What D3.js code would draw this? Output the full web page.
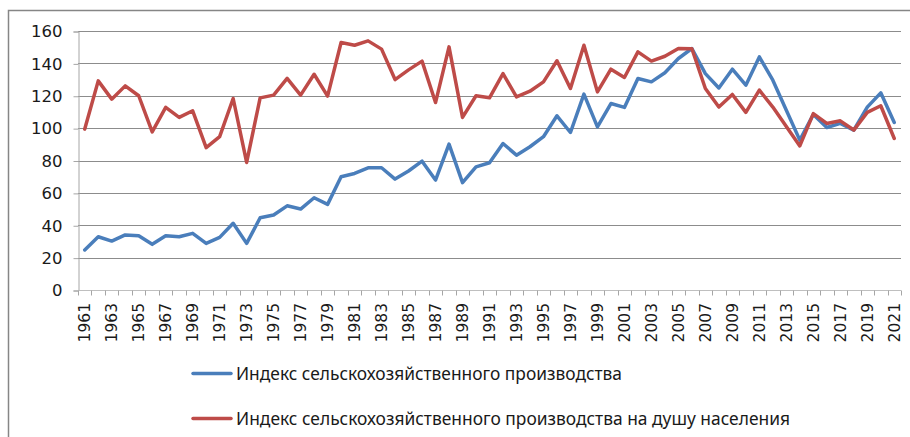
<!DOCTYPE html>
<html>
<head>
<meta charset="utf-8">
<script src="https://cdn.jsdelivr.net/npm/d3@7"></script>
<style>
    html, body { margin: 0; padding: 0; background: #fff; }
    svg { display: block; }
</style>
</head>
<body>
<div id="chart"></div>
<script>
// годы 1961-2021
const years = d3.range(1961, 2022);

const production = [
    24.7, 32.9, 30.2, 34, 33.5, 28.2, 33.5, 32.9, 35, 28.8,
    32.5, 41.2, 28.8, 44.6, 46.3, 52, 50, 57, 52.9, 70,
    72, 75.5, 75.5, 68.5, 73.5, 79.6, 67.9, 90.1, 66.3, 76.1,
    78.6, 90.5, 83.3, 88.5, 94.7, 107.6, 97.3, 121, 100.8, 115.2,
    112.8, 130.7, 128.6, 134.2, 143, 149.2, 133.7, 124.8, 136.4, 126.5,
    144, 129.6, 111, 92.6, 108.4, 100.4, 102.9, 98.8, 113, 121.8,
    103.5
];

const perCapita = [
    99.4, 129.2, 117.9, 126.1, 120, 97.7, 112.8, 106.6, 110.7, 87.9,
    94.7, 118.3, 78.8, 118.7, 120.4, 130.7, 120.4, 133.3, 119.8, 152.9,
    151.2, 153.9, 148.8, 130, 136, 141.4, 115.8, 150.2, 106.6, 120,
    118.7, 133.7, 119.3, 122.8, 128.6, 141.6, 124.5, 151.2, 122.4, 136.4,
    131.3, 147.1, 141.4, 144.4, 149.2, 149, 124.5, 113, 120.8, 109.7,
    123.5, 113, 101, 89, 109, 102.9, 104.5, 98.8, 109.7, 113.8,
    93.6
];

const yTicks = [0, 20, 40, 60, 80, 100, 120, 140, 160];
const xLabels = years.filter((d, i) => i % 2 === 0);

const seriesNames = [
    'Индекс сельскохозяйственного производства',
    'Индекс сельскохозяйственного производства на душу населения'
];
const seriesColors = ['#4a7ebb', '#be4b48'];

const width = 910, height = 437;
const plot = { left: 78, right: 901, top: 31, bottom: 290 };

const svg = d3.select('#chart').append('svg')
    .attr('width', width)
    .attr('height', height);

// рамка области диаграммы
svg.append('path')
    .attr('d', `M8.5,${height + 5} V10.5 H${width + 5}`)
    .attr('fill', 'none')
    .attr('stroke', '#868686')
    .attr('stroke-width', 1.5);

const x = d3.scaleBand().domain(years).range([plot.left, plot.right]).padding(0);
const y = d3.scaleLinear().domain([0, 160]).range([plot.bottom, plot.top]);
const cx = d => x(d) + x.bandwidth() / 2;

// сетка
svg.append('g')
    .selectAll('line')
    .data(yTicks.filter(d => d > 0))
    .join('line')
    .attr('x1', plot.left).attr('x2', plot.right)
    .attr('y1', d => Math.round(y(d)) + 0.5).attr('y2', d => Math.round(y(d)) + 0.5)
    .attr('stroke', '#8c8c8c')
    .attr('stroke-width', 1);

// ось Y
const yAxis = svg.append('g')
    .attr('transform', `translate(${plot.left + 0.5},0.5)`)
    .call(d3.axisLeft(y).tickValues(yTicks).tickSize(5).tickPadding(11).tickFormat(d3.format('d')));
yAxis.select('.domain').attr('stroke', '#a6a6a6');
yAxis.selectAll('.tick line').attr('stroke', '#a6a6a6');
yAxis.selectAll('.tick text')
    .attr('fill', '#1a1a1a')
    .style('font-family', 'DejaVu Sans, sans-serif')
    .style('font-size', '16.5px');

// ось X
const xAxis = svg.append('g')
    .attr('transform', `translate(0,${plot.bottom + 0.5})`);
xAxis.append('line')
    .attr('x1', plot.left).attr('x2', plot.right)
    .attr('stroke', '#bfbfbf');
xAxis.selectAll('line.tk')
    .data(years.concat([null]))
    .join('line')
    .attr('class', 'tk')
    .attr('x1', d => Math.round(d === null ? plot.right : x(d)) + 0.5)
    .attr('x2', d => Math.round(d === null ? plot.right : x(d)) + 0.5)
    .attr('y1', 0).attr('y2', 5)
    .attr('stroke', '#a6a6a6');
xAxis.selectAll('text')
    .data(xLabels)
    .join('text')
    .attr('transform', d => `translate(${cx(d) + 5.5},12.5) rotate(-90)`)
    .attr('text-anchor', 'end')
    .attr('fill', '#1a1a1a')
    .style('font-family', 'DejaVu Sans, sans-serif')
    .style('font-size', '15.5px')
    .text(d => d);

// линии
const line = d3.line()
    .x((d, i) => cx(years[i]))
    .y(d => y(d));

[production, perCapita].forEach((vals, k) => {
    svg.append('path')
        .datum(vals)
        .attr('fill', 'none')
        .attr('stroke', seriesColors[k])
        .attr('stroke-width', 3.5)
        .attr('stroke-linejoin', 'round')
        .attr('stroke-linecap', 'round')
        .attr('d', line);
});

// легенда
const legend = svg.append('g');
const legendY = [373.5, 418.5];
const legendLen = [386, 554];
seriesNames.forEach((name, k) => {
    legend.append('line')
        .attr('x1', 193).attr('x2', 231)
        .attr('y1', legendY[k]).attr('y2', legendY[k])
        .attr('stroke', seriesColors[k])
        .attr('stroke-width', 3.5)
        .attr('stroke-linecap', 'round');
    legend.append('text')
        .attr('x', 236)
        .attr('y', legendY[k] + 6)
        .attr('textLength', legendLen[k])
        .attr('lengthAdjust', 'spacingAndGlyphs')
        .attr('fill', '#1a1a1a')
        .style('font-family', 'Liberation Sans Narrow, Noto Sans, sans-serif')
        .style('font-size', '17.5px')
        .text(name);
});
</script>
</body>
</html>
